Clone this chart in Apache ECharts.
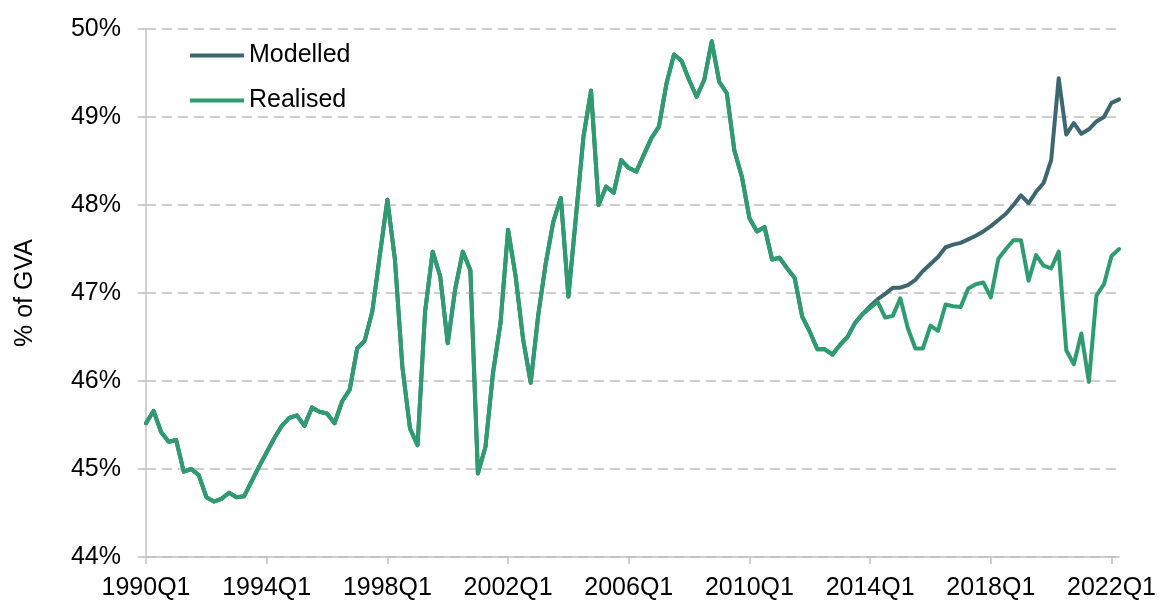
<!DOCTYPE html>
<html>
<head>
<meta charset="utf-8">
<script src="https://cdn.jsdelivr.net/npm/echarts@6/dist/echarts.min.js"></script>
<style>
html,body{margin:0;padding:0;background:#fff;}
#chart{width:1159px;height:601px;}
</style>
</head>
<body>
<div id="chart"></div>
<script>
// Quarterly categories 1990Q1 .. 2022Q2
var startYear = 1990;
var quarterCount = 130;
var categories = [];
for (var k = 0; k < quarterCount; k++) {
  categories.push((startYear + Math.floor(k / 4)) + 'Q' + (k % 4 + 1));
}

// Realised (% of GVA)
var realised = [
  45.52, 45.66, 45.42, 45.31, 45.33, 44.97, 45.00, 44.93,
  44.68, 44.63, 44.66, 44.73, 44.68, 44.69, 44.86, 45.03,
  45.19, 45.35, 45.49, 45.58, 45.61, 45.49, 45.70, 45.65,
  45.63, 45.52, 45.77, 45.90, 46.37, 46.46, 46.79, 47.43,
  48.06, 47.38, 46.15, 45.46, 45.27, 46.79, 47.47, 47.19,
  46.43, 47.05, 47.47, 47.26, 44.95, 45.25, 46.09, 46.66,
  47.72, 47.19, 46.47, 45.98, 46.75, 47.34, 47.81, 48.08,
  46.96, 47.87, 48.78, 49.30, 48.00, 48.21, 48.14, 48.51,
  48.42, 48.38, 48.57, 48.76, 48.89, 49.38, 49.71, 49.64,
  49.42, 49.23, 49.42, 49.86, 49.40, 49.27, 48.62, 48.32,
  47.85, 47.70, 47.75, 47.38, 47.40, 47.28, 47.17, 46.73,
  46.56, 46.36, 46.36, 46.30, 46.41, 46.50, 46.66, 46.76,
  46.83, 46.90, 46.72, 46.74, 46.94, 46.60, 46.37, 46.37,
  46.63, 46.57, 46.87, 46.85, 46.84, 47.05, 47.10, 47.12,
  46.95, 47.39, 47.50, 47.60, 47.60, 47.14, 47.43, 47.31,
  47.28, 47.47, 46.35, 46.19, 46.54, 45.99, 46.97, 47.10,
  47.42, 47.50
];

// Modelled: identical to realised until 2014Q1, then diverges
var modelledSharedUntil = 96;
var modelledTail = [
  46.85, 46.93, 46.99, 47.06, 47.06, 47.09, 47.15, 47.25,
  47.33, 47.41, 47.52, 47.55, 47.57, 47.61, 47.65, 47.70,
  47.76, 47.83, 47.90, 48.00, 48.11, 48.02, 48.15, 48.25,
  48.51, 49.44, 48.80, 48.93, 48.81, 48.86, 48.95, 49.00,
  49.16, 49.20
];
var modelled = realised.slice(0, modelledSharedUntil).concat(modelledTail);

var seriesNames = ['Modelled', 'Realised'];
var yTickFormat = '{value}%';

var chart = echarts.init(document.getElementById('chart'), null, {renderer: 'canvas'});
var font = 'Liberation Sans, Arial, sans-serif';
chart.setOption({
  animation: false,
  backgroundColor: '#ffffff',
  grid: {left: 146, right: 39, top: 29, bottom: 44, containLabel: false},
  legend: {
    orient: 'vertical',
    left: 190,
    top: 43,
    padding: 0,
    icon: 'rect',
    itemWidth: 54,
    itemHeight: 4,
    itemGap: 20,
    textStyle: {fontFamily: font, fontSize: 25, color: '#000'},
    data: seriesNames
  },
  xAxis: {
    type: 'category',
    data: categories,
    boundaryGap: false,
    axisLine: {lineStyle: {color: '#c0c0c0', width: 1.5}},
    axisTick: {show: true, interval: 15, length: 7, lineStyle: {color: '#c0c0c0', width: 1.5}},
    axisLabel: {interval: 15, margin: 19, fontFamily: font, fontSize: 25, color: '#000'},
    splitLine: {show: false}
  },
  yAxis: {
    type: 'value',
    min: 44,
    max: 50,
    interval: 1,
    name: '% of GVA',
    nameLocation: 'middle',
    nameGap: 108,
    nameTextStyle: {fontFamily: font, fontSize: 25, color: '#000'},
    axisLine: {show: true, lineStyle: {color: '#c0c0c0', width: 1.5}},
    axisTick: {show: true, length: 8, lineStyle: {color: '#c0c0c0', width: 1.5}},
    axisLabel: {formatter: yTickFormat, margin: 25, fontFamily: font, fontSize: 25, color: '#000'},
    splitLine: {show: true, lineStyle: {color: '#bfbfbf', width: 1.5, type: [10, 6]}}
  },
  series: [
    {
      name: seriesNames[0],
      type: 'line',
      data: modelled,
      showSymbol: false,
      color: '#3e6670',
      lineStyle: {width: 4, color: '#3e6670', join: 'round', cap: 'round'},
      z: 2
    },
    {
      name: seriesNames[1],
      type: 'line',
      data: realised,
      showSymbol: false,
      color: '#2e9c70',
      lineStyle: {width: 4, color: '#2e9c70', join: 'round', cap: 'round'},
      z: 3
    }
  ]
});
</script>
</body>
</html>
